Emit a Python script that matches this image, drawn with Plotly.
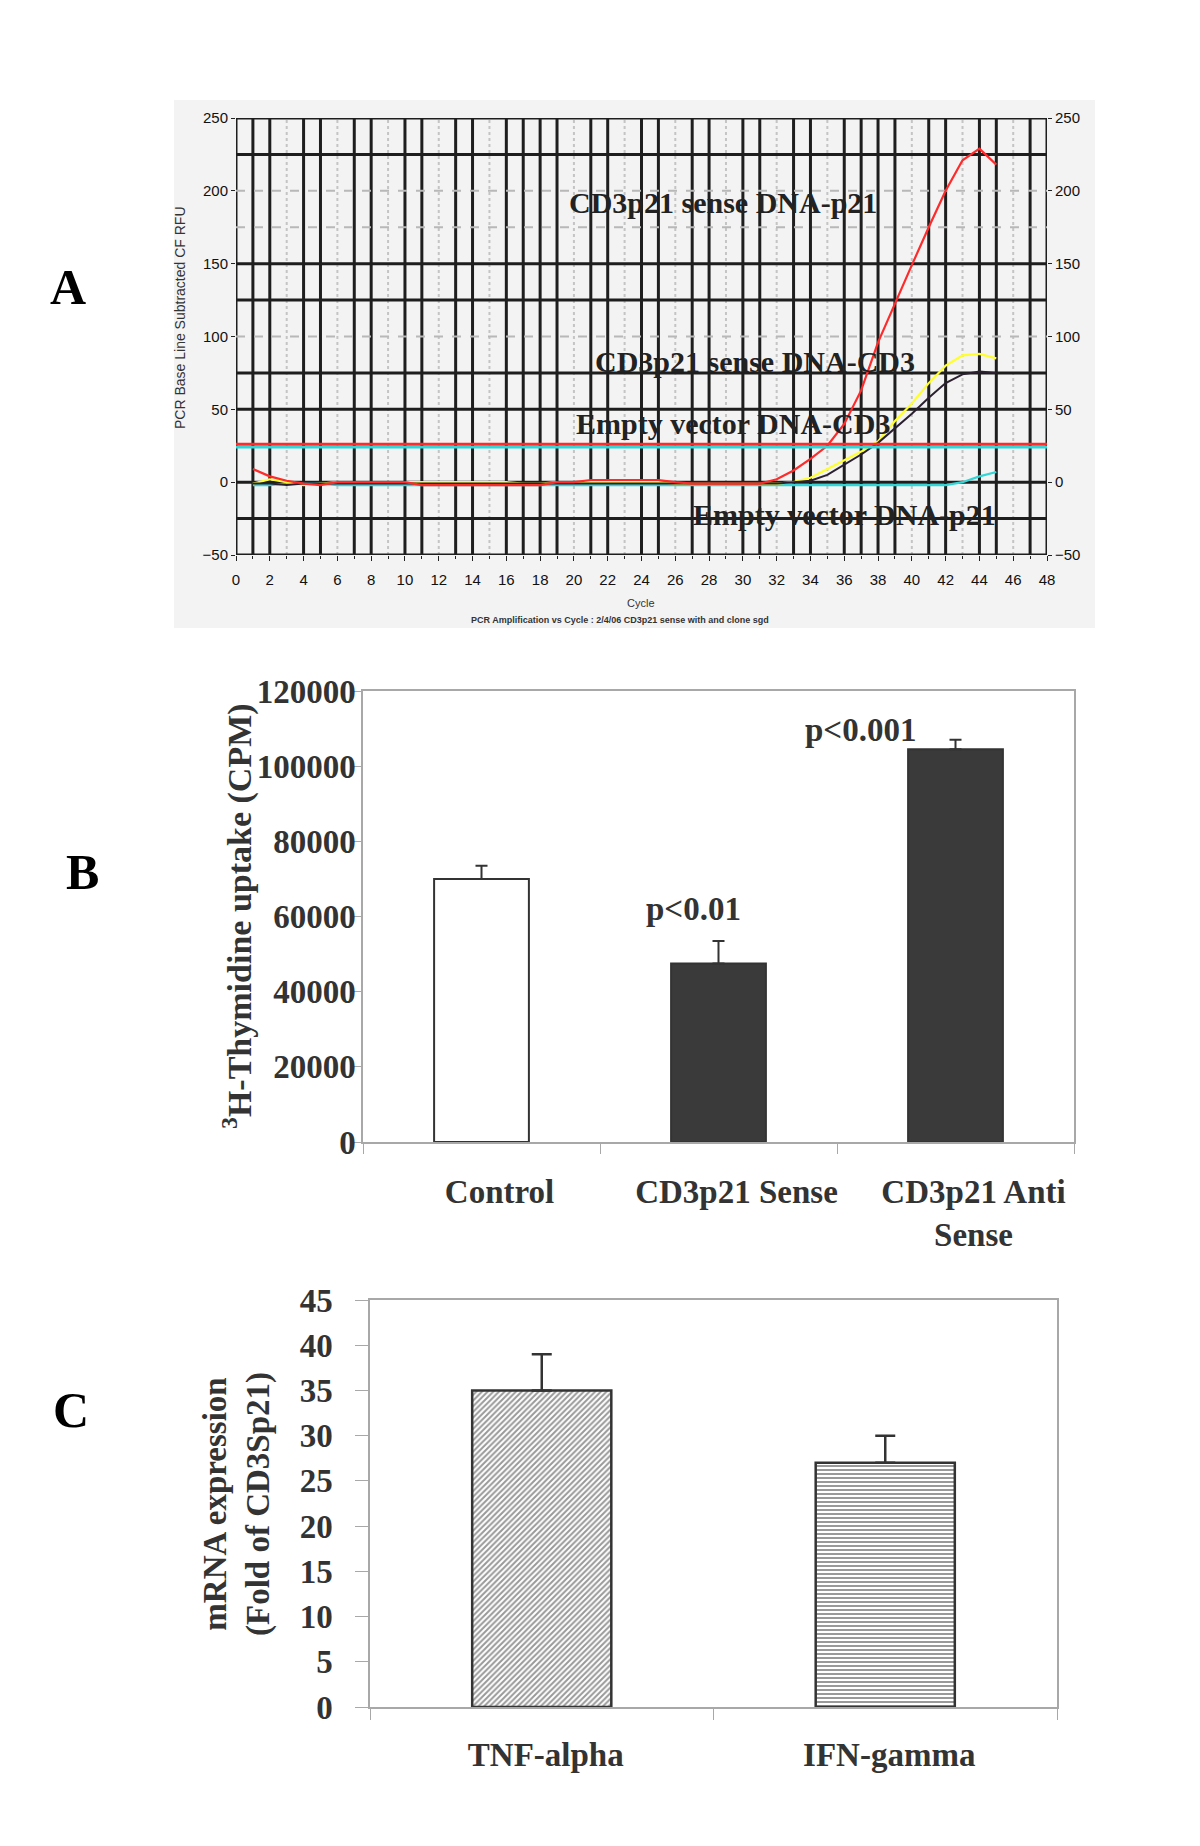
import plotly.graph_objects as go

W, H = 1200, 1846


def px(x):
    return x / W


def py(y):
    return 1 - y / H


# ---------------- Panel A data (real-time PCR amplification) ----------------
cycles = list(range(1, 46))
red_sense_p21 = [9, 4, 1, -1, -2, 0, 0, 0, 0, 0,
                 -2, -2, -2, -2, -2, -2, -2, -2, 0, 0,
                 1.5, 1.5, 1.5, 1.5, 1.5, 0, -1, -1, -1, -1,
                 -1, 2, 8, 16, 25, 40, 63, 96, 123, 149,
                 175, 200, 221, 229, 218]
yellow_sense_cd3 = [-1, 2, 0, -2, -1, 0, 0, 0, 0, 0,
                    0, 0, 0, 0, 0, 0, -1, -1, 0, 0,
                    0, 0, 0, 0, 0, -1, -1, -1, -1, -1,
                    -1, -1, 0, 3, 9, 15, 21, 28, 42, 54,
                    68, 80, 87, 88, 85]
dark_empty_cd3 = [-1, -1, -2, -1, -1, -1, -1, -1, -1, -1,
                  -1, -1, -1, -1, -1, -1, -1, -1, -1, -1,
                  -1, -1, -1, -1, -1, -1, -1, -1, -1, -1,
                  -1, -1, 0, 1, 5, 12, 19, 27, 37, 47,
                  58, 68, 74, 76, 75]
cyan_empty_p21 = [-2, -2, -1, -1, -1, -2, -2, -2, -2, -2,
                  -2, -2, -2, -2, -2, -2, -2, -2, -2, -2,
                  -2, -2, -2, -2, -2, -2, -2, -2, -2, -2,
                  -2, -2, -2, -2, -2, -2, -2, -2, -2, -2,
                  -2, -2, 0, 4, 7]
threshold_cycles = [0, 48]
threshold_red = [26, 26]
threshold_cyan = [24, 24]

a_x_ticks = list(range(0, 49, 2))
a_y_ticks = [-50, 0, 50, 100, 150, 200, 250]
a_grid_cycles = list(range(0, 49))
a_grid_gray_cycles = [3, 6, 9, 12, 15, 20, 23, 26, 29, 32, 35, 40, 43, 46]
a_grid_levels_dark = [250, 225, 150, 125, 75, 50, 0, -25, -50]
a_grid_levels_gray = [200, 175, 100]

a_curve_labels = ["CD3p21 sense DNA-p21", "CD3p21 sense DNA-CD3",
                  "Empty vector DNA-CD3", "Empty vector DNA-p21"]
a_label_cycle = [28.8, 30.7, 29.4, 36.0]
a_label_value = [192, 83, 40, -22]

# ---------------- Panel B data ----------------
b_categories = ["Control", "CD3p21 Sense", "CD3p21 Anti<br>Sense"]
b_values = [70000, 47500, 104500]
b_errors = [3500, 6000, 2500]
b_colors = ["white", "#3a3a3a", "#3a3a3a"]
b_pvalues = ["p<0.01", "p<0.001"]
b_p_index = [1, 2]
b_p_y = [62000, 109600]
b_y_ticks = [0, 20000, 40000, 60000, 80000, 100000, 120000]

# ---------------- Panel C data ----------------
c_categories = ["TNF-alpha", "IFN-gamma"]
c_values = [35, 27]
c_errors = [4, 3]
c_patterns = ["/", "-"]

SERIF = "Liberation Serif, Times New Roman, serif"
SANS = "Liberation Sans, Arial, sans-serif"

fig = go.Figure()

# Panel A traces
for yv, col, w in [(cyan_empty_p21, "#33d6d6", 2.2),
                   (yellow_sense_cd3, "#ffff30", 2.2),
                   (dark_empty_cd3, "#2a2030", 2.0),
                   (red_sense_p21, "#ff2a2a", 2.2)]:
    fig.add_trace(go.Scatter(x=cycles, y=yv, mode="lines", xaxis="x", yaxis="y",
                             line=dict(color=col, width=w), showlegend=False,
                             hoverinfo="skip"))
fig.add_trace(go.Scatter(x=threshold_cycles, y=threshold_cyan, mode="lines",
                         xaxis="x", yaxis="y4", line=dict(color="#33d6d6", width=2.5),
                         showlegend=False, hoverinfo="skip"))
fig.add_trace(go.Scatter(x=threshold_cycles, y=threshold_red, mode="lines",
                         xaxis="x", yaxis="y", line=dict(color="#ff2a2a", width=3),
                         showlegend=False, hoverinfo="skip"))

# Panel B bars
fig.add_trace(go.Bar(x=b_categories, y=b_values, xaxis="x2", yaxis="y2", width=0.4,
                     marker=dict(color=b_colors, line=dict(color="#333333", width=2)),
                     error_y=dict(type="data", array=b_errors,
                                  arrayminus=[0] * len(b_errors), symmetric=False,
                                  color="#333333", thickness=2, width=6),
                     showlegend=False, hoverinfo="skip"))

# Panel C bars
fig.add_trace(go.Bar(x=c_categories, y=c_values, xaxis="x3", yaxis="y3", width=0.405,
                     marker=dict(color="white", line=dict(color="#333333", width=2.5),
                                 pattern=dict(shape=c_patterns, fillmode="overlay",
                                              fgcolor="#333333", bgcolor="white",
                                              size=4, solidity=0.5)),
                     error_y=dict(type="data", array=c_errors,
                                  arrayminus=[0] * len(c_errors), symmetric=False,
                                  color="#333333", thickness=2.5, width=10),
                     showlegend=False, hoverinfo="skip"))

shapes = []
# Panel A background
shapes.append(dict(type="rect", xref="paper", yref="paper", x0=px(174), x1=px(1095),
                   y0=py(628), y1=py(100), fillcolor="#f3f3f3", line=dict(width=0),
                   layer="below"))
# Panel A grid
for c in a_grid_cycles:
    if c in a_grid_gray_cycles:
        shapes.append(dict(type="line", xref="x", yref="y domain", x0=c, x1=c, y0=0, y1=1,
                           line=dict(color="#c4c4c4", width=2, dash="dot"), layer="below"))
    else:
        shapes.append(dict(type="line", xref="x", yref="y domain", x0=c, x1=c, y0=0, y1=1,
                           line=dict(color="#1e1e1e", width=3), layer="below"))
for v in a_grid_levels_gray:
    shapes.append(dict(type="line", xref="x domain", yref="y", x0=0, x1=1, y0=v, y1=v,
                       line=dict(color="#b8b8b8", width=2, dash="dash"), layer="below"))
for v in a_grid_levels_dark:
    shapes.append(dict(type="line", xref="x domain", yref="y", x0=0, x1=1, y0=v, y1=v,
                       line=dict(color="#1e1e1e", width=3), layer="below"))


def ann(**kw):
    d = dict(showarrow=False, xanchor="center", yanchor="middle")
    d.update(kw)
    return d


annotations = []
for t, cx, cy in zip(a_curve_labels, a_label_cycle, a_label_value):
    annotations.append(ann(text=t, x=cx, y=cy, xref="x", yref="y",
                           font=dict(family=SERIF, size=30, color="#222222", weight="bold")))

annotations.append(ann(text="Cycle", x=px(641), y=py(603), xref="paper", yref="paper",
                       font=dict(family=SANS, size=11, color="#333")))
annotations.append(ann(text="PCR Amplification vs Cycle : 2/4/06 CD3p21 sense with and clone sgd",
                       x=px(620), y=py(620), xref="paper", yref="paper",
                       font=dict(family=SANS, size=9, color="#333", weight="bold")))
annotations.append(ann(text="PCR Base Line Subtracted CF RFU", x=px(180), y=py(318),
                       xref="paper", yref="paper", textangle=-90,
                       font=dict(family=SANS, size=14, color="#333")))

# Panel letters
for t, lx, ly in [("A", 68, 287), ("B", 82, 872), ("C", 71, 1410)]:
    annotations.append(ann(text=t, x=px(lx), y=py(ly), xref="paper", yref="paper",
                           font=dict(family=SERIF, size=50, color="black", weight="bold")))

# Panel B annotations
for t, i, yv in zip(b_pvalues, b_p_index, b_p_y):
    annotations.append(ann(text=t, x=i, y=yv, xref="x2", yref="y2",
                           xshift=-25 if i == 1 else -95,
                           font=dict(family=SERIF, size=33, color="#333333", weight="bold")))
annotations.append(ann(text="<sup>3</sup>H-Thymidine uptake (CPM)", x=px(238), y=py(916),
                       xref="paper", yref="paper", textangle=-90,
                       font=dict(family=SERIF, size=34, color="#333333", weight="bold")))
# Panel C title
annotations.append(ann(text="mRNA expression<br>(Fold of CD3Sp21)", x=px(237), y=py(1504),
                       xref="paper", yref="paper", textangle=-90,
                       font=dict(family=SERIF, size=33, color="#333333", weight="bold")))

tick_a = dict(family=SANS, size=15, color="#111111")
tick_bc = dict(family=SERIF, size=33, color="#333333", weight="bold")
GRAY = "#a8a8a8"

fig.update_layout(
    width=W, height=H, margin=dict(l=0, r=0, t=0, b=0, pad=0, autoexpand=False),
    paper_bgcolor="white", plot_bgcolor="white", showlegend=False,
    shapes=shapes, annotations=annotations, bargap=0.6,
    xaxis=dict(domain=[px(236), px(1047)], anchor="y", range=[0, 48],
               tickvals=a_x_ticks, ticks="outside", ticklen=5, tickcolor="#222",
               minor=dict(dtick=1, ticks="outside", ticklen=3, tickcolor="#222"),
               showgrid=False, zeroline=False, showline=False, tickfont=tick_a,
               ticklabelstandoff=6, automargin=False),
    yaxis=dict(domain=[py(555), py(118)], anchor="x", range=[-50, 250],
               tickvals=a_y_ticks, ticks="outside", ticklen=4, tickcolor="#222",
               showgrid=False, zeroline=False, showline=False, tickfont=tick_a,
               automargin=False),
    yaxis4=dict(overlaying="y", side="right", anchor="x", range=[-50, 250],
                tickvals=a_y_ticks, ticks="outside", ticklen=4, tickcolor="#222",
                showgrid=False, zeroline=False, showline=False, tickfont=tick_a,
                automargin=False),
    xaxis2=dict(domain=[px(363), px(1074)], anchor="y2", type="category",
                range=[-0.5, 2.5], tickson="boundaries", ticks="outside", ticklen=10,
                tickcolor=GRAY, showline=True, linecolor=GRAY, linewidth=1.5, mirror=True,
                showgrid=False, zeroline=False, tickfont=tick_bc, ticklabelstandoff=20,
                ticklabelshift=18, automargin=False),
    yaxis2=dict(domain=[py(1142), py(691)], anchor="x2", range=[0, 120000],
                tickvals=b_y_ticks, tickformat="d", ticks="outside", ticklen=8,
                tickcolor=GRAY, showline=True, linecolor=GRAY, linewidth=1.5, mirror=True,
                showgrid=False, zeroline=False, tickfont=tick_bc, ticklabelstandoff=-9,
                automargin=False),
    xaxis3=dict(domain=[px(370), px(1057)], anchor="y3", type="category",
                range=[-0.5, 1.5], tickson="boundaries", ticks="outside", ticklen=11,
                tickcolor=GRAY, showline=True, linecolor=GRAY, linewidth=1.5, mirror=True,
                showgrid=False, zeroline=False, tickfont=tick_bc, ticklabelstandoff=18,
                ticklabelshift=4, automargin=False),
    yaxis3=dict(domain=[py(1707), py(1300)], anchor="x3", range=[0, 45], dtick=5,
                ticks="outside", ticklen=13, tickcolor=GRAY,
                showline=True, linecolor=GRAY, linewidth=1.5, mirror=True,
                showgrid=False, zeroline=False, tickfont=tick_bc, ticklabelstandoff=16,
                automargin=False),
)

fig.write_html("out.html", config={"displayModeBar": False},
               post_script="document.body.style.margin='0';document.body.style.overflow='hidden';")
